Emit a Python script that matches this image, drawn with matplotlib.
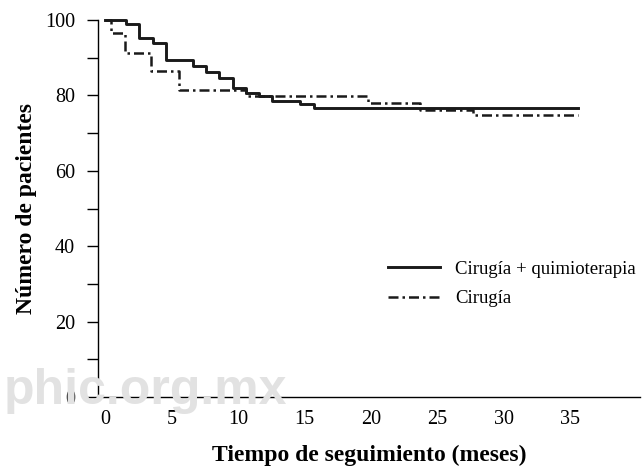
import matplotlib
matplotlib.use("Agg")
import matplotlib.pyplot as plt

# Data (step curves)
t_qt = [0, 1.6, 2.6, 3.6, 4.6, 6.6, 7.6, 8.6, 9.6, 10.6, 11.6, 12.6, 14.7, 15.7, 35.6]
s_qt = [100, 98.9, 95.3, 94.0, 89.3, 87.7, 86.3, 84.5, 82.0, 80.7, 79.8, 78.6, 77.8, 76.7, 76.7]
t_c = [0, 0.45, 1.5, 3.5, 5.6, 10.6, 19.8, 23.7, 27.7, 35.6]
s_c = [100, 96.6, 91.3, 86.5, 81.4, 79.9, 77.9, 76.1, 74.8, 74.8]
labels = ["Cirugía + quimioterapia", "Cirugía"]
xticks = [0, 5, 10, 15, 20, 25, 30, 35]
yticks = [0, 20, 40, 60, 80, 100]

plt.rcParams['font.family'] = ['Liberation Serif', 'DejaVu Serif']

fig = plt.figure(figsize=(6.44, 4.66), dpi=100)
fig.text(0.006, 0.133, "phic.org.mx", fontsize=36, color="#e2e2e2", fontweight="bold",
         family="Liberation Sans", ha="left", va="baseline", zorder=0)
ax = fig.add_axes([0.152, 0.148, 0.842, 0.809])
ax.patch.set_alpha(0)

ax.step(t_qt, s_qt, where="post", color="#1a1a1a", lw=2.1, label=labels[0], clip_on=False, zorder=3)
ax.step(t_c, s_c, where="post", color="#1a1a1a", lw=1.8, dashes=(4, 1.6, 1, 1.6),
        label=labels[1], clip_on=False, zorder=2)

ax.set_xlim(-0.53, 40.26)
ax.set_ylim(0, 100)
ax.set_xticks(xticks)
ax.set_yticks(yticks)
ax.set_yticks(range(10, 100, 20), minor=True)
ax.tick_params(axis="y", which="both", direction="out", length=8, width=1, labelsize=14.5, pad=8.5)
ax.tick_params(axis="x", length=0, labelsize=14.5, pad=9)
for sp in ["top", "right"]:
    ax.spines[sp].set_visible(False)
for sp in ["left", "bottom"]:
    ax.spines[sp].set_linewidth(1.0)

ax.set_xlabel("Tiempo de seguimiento (meses)", fontsize=17, fontweight="bold", labelpad=12)
ax.set_ylabel("Número de pacientes", fontsize=17, fontweight="bold", labelpad=6)

leg = ax.legend(loc="center left", bbox_to_anchor=(0.503, 0.3), frameon=False, fontsize=13.5,
                handlelength=2.8, handletextpad=0.8, labelspacing=0.65)

fig.savefig("out.png", dpi=100)
